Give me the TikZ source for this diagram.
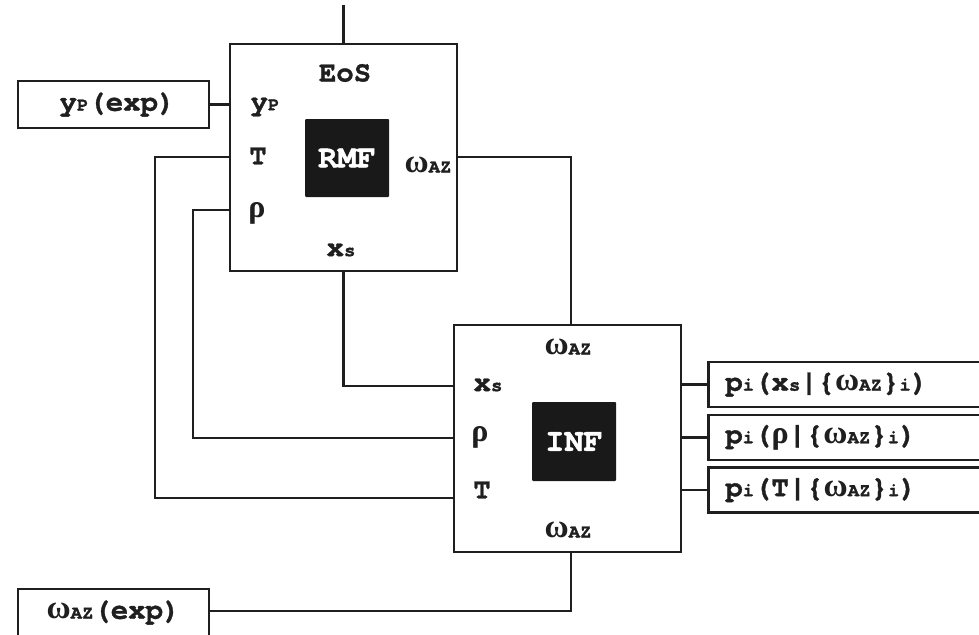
\documentclass[tikz,border=0pt]{standalone}
\usepackage{fontspec}
\setmainfont{TeX Gyre Cursor}[BoldFeatures={FakeBold=1.2}]
\newfontfamily\grk{Liberation Serif}
\newcommand{\sbx}[1]{{\fontsize{19}{19}\selectfont #1}}
\newcommand{\om}{{\grk\bfseries\fontsize{33}{33}\selectfont ω}}
\newcommand{\rh}{{\grk\bfseries\fontsize{32}{32}\selectfont ρ}}
\newcommand{\waz}{\om\sbx{AZ}}
\colorlet{ink}{black!88}
\begin{document}
\begin{tikzpicture}[x=1pt,y=-1pt,
  every node/.style={font=\fontsize{29}{31}\selectfont\bfseries, text=ink},
  box/.style={draw=ink, line width=2.6pt, inner sep=0pt},
  blk/.style={fill=black!90, text=white, rounded corners=1pt, inner sep=0pt, font=\fontsize{32}{34}\selectfont\bfseries},
  lbl/.style={inner sep=0pt},
  wire/.style={draw=ink, line width=2.6pt}]
\useasboundingbox (0,0) rectangle (979,634);

% EoS block
\node[box, minimum width=227pt, minimum height=227pt] (eos) at (343.5,157.5) {};
\node[blk, minimum width=84pt, minimum height=78pt] (rmf) at (347,158) {RMF};
\node[lbl] (eosT) at (345,73) {EoS};
\node[lbl] (eyp) at (265,107) {y\sbx{P}};
\node[lbl] (eT) at (258,156) {T};
\node[lbl] (erho) at (257,213) {\rh};
\node[lbl] (ew) at (428,165) {\waz};
\node[lbl] (exs) at (341,250) {x\sbx{s}};

% INF block
\node[box, minimum width=227pt, minimum height=227pt] (inf) at (567.5,438.5) {};
\node[blk, minimum width=84pt, minimum height=79pt] (infb) at (574,441.5) {INF};
\node[lbl] (iwt) at (568,347) {\waz};
\node[lbl] (ixs) at (488,385) {x\sbx{s}};
\node[lbl] (irho) at (480,437) {\rh};
\node[lbl] (iT) at (482,490) {T};
\node[lbl] (iwb) at (568,530) {\waz};

% input boxes
\node[box, minimum width=191pt, minimum height=47pt] (ypx) at (113.5,104.5) {\hspace{8pt}y\sbx{P}(exp)};
\node[box, minimum width=191pt, minimum height=47pt] (wx) at (113.5,612.5) {\waz(exp)};

% output boxes
\node[box, anchor=west, minimum width=300pt, minimum height=45pt, text width=266pt, inner xsep=17pt, align=left] (o1) at (707,384.5) {p\sbx{i}(x\sbx{s}|\{\waz\}\sbx{i})};
\node[box, anchor=west, minimum width=300pt, minimum height=45pt, text width=266pt, inner xsep=17pt, align=left] (o2) at (707,437.5) {p\sbx{i}(\rh|\{\waz\}\sbx{i})};
\node[box, anchor=west, minimum width=300pt, minimum height=45pt, text width=266pt, inner xsep=17pt, align=left] (o3) at (707,490) {p\sbx{i}(T|\{\waz\}\sbx{i})};

% connectors
\coordinate (topend) at (343.5,5);
\draw[wire] (topend) -- (eos.north);
\draw[wire] (ypx.east) -- (eos.west |- ypx.east);

\coordinate (cT) at (155,157);
\coordinate (cTb) at (155,498);
\draw[wire] (eos.west |- cT) -- (cT) -- (cTb) -- (inf.west |- cTb);

\coordinate (cR) at (193,210);
\coordinate (cRb) at (193,438);
\draw[wire] (eos.west |- cR) -- (cR) -- (cRb) -- (inf.west |- cRb);

\coordinate (cX) at (343.5,386);
\draw[wire] (eos.south) -- (cX) -- (inf.west |- cX);

\coordinate (cW) at (571,157);
\draw[wire] (eos.east |- cW) -- (cW) -- (inf.north -| cW);

\coordinate (cB) at (571,611);
\draw[wire] (inf.south -| cB) -- (cB) -- (wx.east |- cB);

\draw[wire] (inf.east |- o1) -- (o1.west);
\draw[wire] (inf.east |- o2) -- (o2.west);
\draw[wire] (inf.east |- o3) -- (o3.west);
\end{tikzpicture}
\end{document}
